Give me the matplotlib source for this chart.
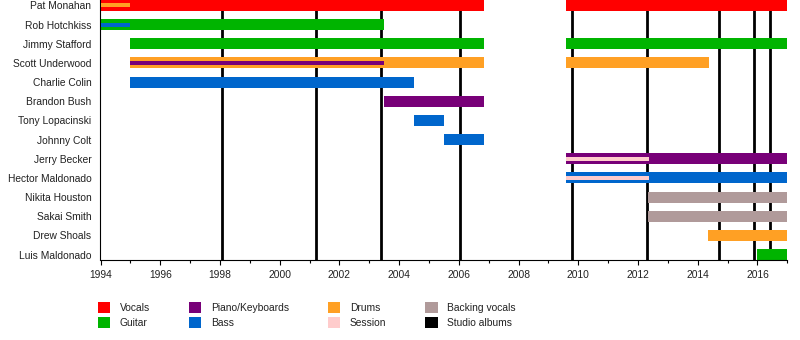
import matplotlib
matplotlib.use("Agg")
import matplotlib.pyplot as plt
from matplotlib.patches import Patch

plt.rcParams['font.family'] = ['Liberation Sans', 'DejaVu Sans']

members = [
    "Pat Monahan", "Rob Hotchkiss", "Jimmy Stafford", "Scott Underwood",
    "Charlie Colin", "Brandon Bush", "Tony Lopacinski", "Johnny Colt",
    "Jerry Becker", "Hector Maldonado", "Nikita Houston", "Sakai Smith",
    "Drew Shoals", "Luis Maldonado",
]

role_colors = {
    "Vocals": "#ff0000",
    "Guitar": "#00b400",
    "Piano/Keyboards": "#780078",
    "Bass": "#0066cc",
    "Drums": "#ffa024",
    "Session": "#ffcccc",
    "Backing vocals": "#b09a9a",
    "Studio albums": "#000000",
}

# (member, role, start, end) — primary roles
main_spans = [
    ("Pat Monahan", "Vocals", 1994.0, 2006.85),
    ("Pat Monahan", "Vocals", 2009.6, 2017.0),
    ("Rob Hotchkiss", "Guitar", 1994.0, 2003.5),
    ("Jimmy Stafford", "Guitar", 1995.0, 2006.85),
    ("Jimmy Stafford", "Guitar", 2009.6, 2017.0),
    ("Scott Underwood", "Drums", 1995.0, 2006.85),
    ("Scott Underwood", "Drums", 2009.6, 2014.37),
    ("Charlie Colin", "Bass", 1995.0, 2004.5),
    ("Brandon Bush", "Piano/Keyboards", 2003.5, 2006.85),
    ("Tony Lopacinski", "Bass", 2004.5, 2005.5),
    ("Johnny Colt", "Bass", 2005.5, 2006.85),
    ("Jerry Becker", "Piano/Keyboards", 2009.6, 2017.0),
    ("Hector Maldonado", "Bass", 2009.6, 2017.0),
    ("Nikita Houston", "Backing vocals", 2012.35, 2017.0),
    ("Sakai Smith", "Backing vocals", 2012.35, 2017.0),
    ("Drew Shoals", "Drums", 2014.35, 2017.0),
    ("Luis Maldonado", "Guitar", 2016.0, 2017.0),
]

# (member, role, start, end) — secondary roles, drawn as thin inner bars
thin_spans = [
    ("Pat Monahan", "Drums", 1994.0, 1995.0),
    ("Rob Hotchkiss", "Bass", 1994.0, 1995.0),
    ("Scott Underwood", "Piano/Keyboards", 1995.0, 2003.5),
    ("Jerry Becker", "Session", 2009.6, 2012.37),
    ("Hector Maldonado", "Session", 2009.6, 2012.37),
]

# Studio album release dates
album_dates = [1998.08, 2001.21, 2003.4, 2006.05, 2009.8, 2012.29, 2014.7, 2015.87, 2016.41]

year_start, year_end = 1994, 2017
tick_years = list(range(1994, 2017, 2))

fig = plt.figure(figsize=(8, 3.4), dpi=100)
ax = fig.add_axes([100.5 / 800, 80 / 340, 686.8 / 800, 260 / 340])

row = {m: i for i, m in enumerate(members)}
bar_h = 0.573
thin_h = 0.21

for d in album_dates:
    ax.axvline(d, color=role_colors["Studio albums"], lw=2.0, zorder=1)

for m, r, s, e in main_spans:
    ax.barh(row[m], e - s, left=s, height=bar_h, color=role_colors[r],
            edgecolor="none", zorder=2)
for m, r, s, e in thin_spans:
    ax.barh(row[m], e - s, left=s, height=thin_h, color=role_colors[r],
            edgecolor="none", zorder=3)

ax.set_xlim(year_start, year_end)
ax.set_ylim(len(members) - 1 + bar_h / 2, -bar_h / 2)
ax.set_yticks(range(len(members)))
ax.set_yticklabels(members)
ax.set_xticks(tick_years)
ax.set_xticks(range(1994, 2018), minor=True)

for side in ("top", "right"):
    ax.spines[side].set_visible(False)
for side in ("left", "bottom"):
    ax.spines[side].set_linewidth(0.8)

ax.tick_params(axis="y", length=0, pad=6.5, labelsize=7.4, labelcolor="#222222")
ax.tick_params(axis="x", which="major", length=3.8, width=0.8, pad=3.3,
               labelsize=7.4, labelcolor="#222222")
ax.tick_params(axis="x", which="minor", length=2.2, width=0.8)

handles = [Patch(facecolor=c, edgecolor="none", label=l) for l, c in role_colors.items()]
fig.legend(handles=handles, loc="upper left", bbox_to_anchor=(98 / 800, 1 - 302 / 340),
           ncol=4, frameon=False, fontsize=7.4, borderpad=0, borderaxespad=0,
           handlelength=1.2, handleheight=1.25, handletextpad=0.92,
           columnspacing=3.8, labelspacing=0.38, labelcolor="#222222")

fig.savefig("out.png", dpi=100)
